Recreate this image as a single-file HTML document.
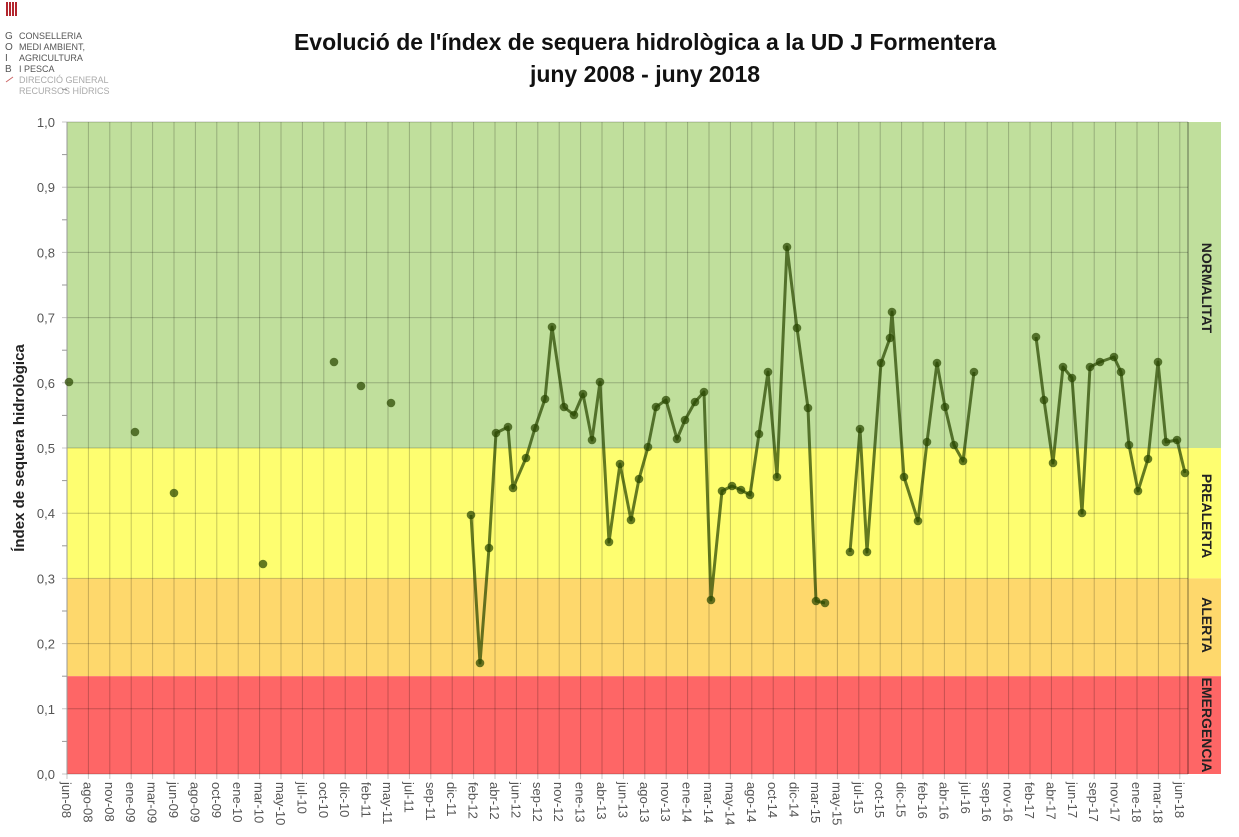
<!DOCTYPE html>
<html><head><meta charset="utf-8"><style>
html,body{margin:0;padding:0;background:#fff;}
svg{display:block;}
</style></head><body>
<svg width="1239" height="837" viewBox="0 0 1239 837" xmlns="http://www.w3.org/2000/svg" font-family="Liberation Sans, DejaVu Sans, sans-serif">
<!-- logo -->
<g fill="#b3262e"><rect x="6" y="2" width="2" height="14"/><rect x="9" y="2" width="2" height="14"/><rect x="12" y="2" width="2" height="14"/><rect x="15" y="2" width="2" height="14"/></g>
<g font-size="10" fill="#555">
<text x="5" y="39">G</text><text x="19" y="39" font-size="9">CONSELLERIA</text>
<text x="5" y="50">O</text><text x="19" y="50" font-size="9">MEDI AMBIENT,</text>
<text x="5" y="61">I</text><text x="19" y="61" font-size="9">AGRICULTURA</text>
<text x="5" y="72">B</text><text x="19" y="72" font-size="9">I PESCA</text>
<text x="19" y="83" font-size="9" fill="#aaa">DIRECCIÓ GENERAL</text>
<text x="19" y="94" font-size="9" fill="#aaa">RECURSOS HÍDRICS</text>
<line x1="6" y1="82" x2="13" y2="77" stroke="#c66" stroke-width="1"/>
</g>
<!-- title -->
<text x="645" y="50" text-anchor="middle" font-size="23" font-weight="bold" fill="#111">Evolució de l'índex de sequera hidrològica a la UD J  Formentera</text>
<text x="645" y="82" text-anchor="middle" font-size="23" font-weight="bold" fill="#111">juny 2008 - juny 2018</text>
<!-- bands -->
<rect x="67" y="122" width="1154" height="326" fill="#c0df9c"/>
<rect x="67" y="448" width="1154" height="130.4" fill="#fefe70"/>
<rect x="67" y="578.4" width="1154" height="97.8" fill="#fed86c"/>
<rect x="67" y="676.2" width="1154" height="97.8" fill="#fe6666"/>
<!-- band labels -->
<g font-size="14" font-weight="bold" fill="#222" text-anchor="middle">
<text transform="translate(1202,288) rotate(90)">NORMALITAT</text>
<text transform="translate(1202,516) rotate(90)">PREALERTA</text>
<text transform="translate(1202,625) rotate(90)">ALERTA</text>
<text transform="translate(1202,725) rotate(90)">EMERGENCIA</text>
</g>
<g id="grid" stroke="rgba(0,0,0,0.22)" stroke-width="1"></g>
<line x1="1188" y1="122" x2="1188" y2="774" stroke="rgba(0,0,0,0.5)"/>
<line x1="67" y1="122" x2="67" y2="774" stroke="#999"/>
<g id="yt" font-size="13" fill="#555" text-anchor="end"></g>
<g id="xl" font-size="13" fill="#555"></g>
<text transform="translate(24,448) rotate(-90)" text-anchor="middle" font-size="15" font-weight="bold" fill="#222">Índex de sequera hidrològica</text>
<g id="ser"></g>
</svg>
<script>
var NS="http://www.w3.org/2000/svg";
function el(p,t,a,txt){var e=document.createElementNS(NS,t);for(var k in a)e.setAttribute(k,a[k]);if(txt!=null)e.textContent=txt;document.getElementById(p).appendChild(e);return e;}
function Y(v){return 774-652*v;}
for(var i=0;i<=10;i++){var y=Y(i/10);el("grid","line",{x1:62,y1:y,x2:1188,y2:y});el("yt","text",{x:55,y:y+5},(i/10).toFixed(1).replace(".",","));
el("grid","line",{x1:62,y1:Y(i/10+0.05),x2:67,y2:Y(i/10+0.05),stroke:"#999"});}
var labs="jun-08 ago-08 nov-08 ene-09 mar-09 jun-09 ago-09 oct-09 ene-10 mar-10 may-10 jul-10 oct-10 dic-10 feb-11 may-11 jul-11 sep-11 dic-11 feb-12 abr-12 jun-12 sep-12 nov-12 ene-13 abr-13 jun-13 ago-13 nov-13 ene-14 mar-14 may-14 ago-14 oct-14 dic-14 mar-15 may-15 jul-15 oct-15 dic-15 feb-16 abr-16 jul-16 sep-16 nov-16 feb-17 abr-17 jun-17 sep-17 nov-17 ene-18 mar-18 jun-18".split(" ");
labs.forEach(function(l,i){var x=67+i*21.4;el("grid","line",{x1:x,y1:122,x2:x,y2:779});
el("xl","text",{transform:"translate("+(x-5)+",782) rotate(90)"},l);});
var segs=[
[[69,382]],[[135,432]],[[174,493]],[[263,564]],[[334,362]],[[361,386]],[[391,403]],
[[471,515],[480,663],[489,548],[496,433],[508,427],[513,488],[526,458],[535,428],[545,399],[552,327],[564,407],[574,415],[583,394],[592,440],[600,382],[609,542],[620,464],[631,520],[639,479],[648,447],[656,407],[666,400],[677,439],[685,420],[695,402],[704,392],[711,600],[722,491],[732,486],[741,490],[750,495],[759,434],[768,372],[777,477],[787,247],[797,328],[808,408],[816,601],[825,603]],
[[850,552],[860,429],[867,552],[881,363],[890,338],[892,312],[904,477],[918,521],[927,442],[937,363],[945,407],[954,445],[963,461],[974,372]],
[[1036,337],[1044,400],[1053,463],[1063,367],[1072,378],[1082,513],[1090,367],[1100,362],[1114,357],[1121,372],[1129,445],[1138,491],[1148,459],[1158,362],[1166,442],[1177,440],[1185,473]]];
segs.forEach(function(s){if(s.length>1)el("ser","polyline",{points:s.map(function(p){return p.join(",")}).join(" "),fill:"none",stroke:"rgba(40,70,0,0.72)","stroke-width":3,"stroke-linejoin":"round"});
s.forEach(function(p){el("ser","circle",{cx:p[0],cy:p[1],r:4.3,fill:"rgba(40,70,0,0.72)"});});});
</script>
</body></html>
